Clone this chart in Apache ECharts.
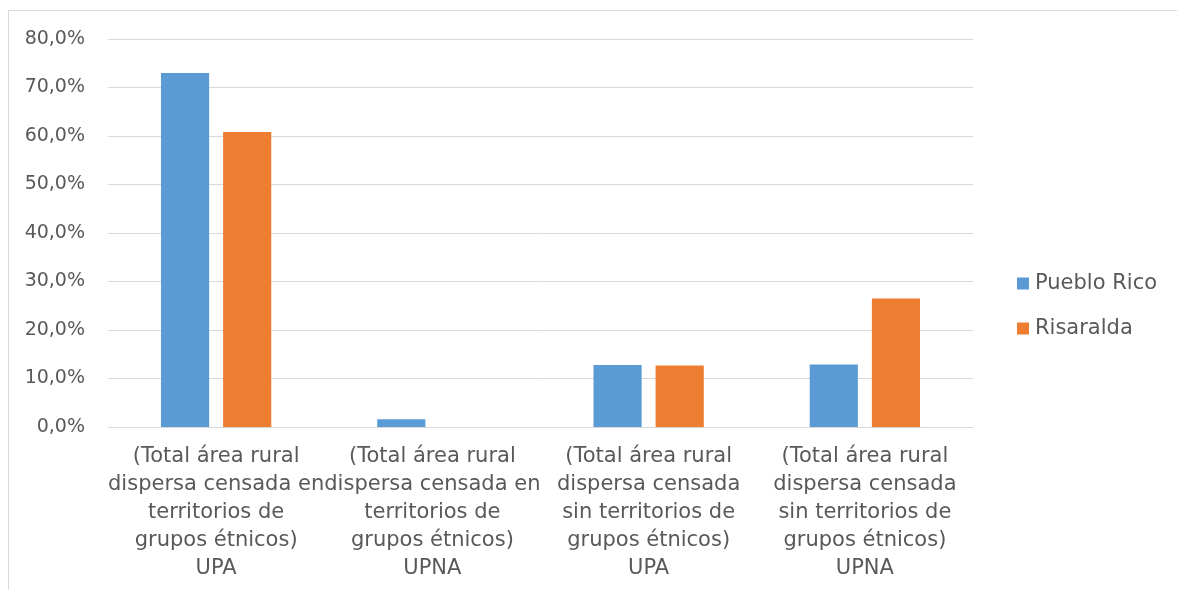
<!DOCTYPE html>
<html>
<head>
<meta charset="utf-8">
<script src="https://cdn.jsdelivr.net/npm/echarts@6/dist/echarts.min.js"></script>
<style>
html,body{margin:0;padding:0;background:#fff;overflow:hidden;}
#frame{position:absolute;left:8px;top:10px;width:1200px;height:600px;border:1px solid #d9d9d9;box-sizing:border-box;}
#chart{position:absolute;left:0;top:0;width:1177px;height:590px;}
</style>
</head>
<body>
<div id="frame"></div>
<div id="chart"></div>
<script>
const categories = [
  "(Total área rural\ndispersa censada en\nterritorios de\ngrupos étnicos)\nUPA",
  "(Total área rural\ndispersa censada en\nterritorios de\ngrupos étnicos)\nUPNA",
  "(Total área rural\ndispersa censada\nsin territorios de\ngrupos étnicos)\nUPA",
  "(Total área rural\ndispersa censada\nsin territorios de\ngrupos étnicos)\nUPNA"
];
const puebloRico = [73.0, 1.6, 12.8, 12.9];
const risaralda = [60.8, 0.0, 12.7, 26.5];
const yTicks = { min: 0, max: 80, interval: 10 };

const chart = echarts.init(document.getElementById('chart'), null, {renderer: 'canvas'});
const font = "'DejaVu Sans', sans-serif";
chart.setOption({
  backgroundColor: 'transparent',
  animation: false,
  grid: { left: 108, right: 204, top: 39, bottom: 163, containLabel: false },
  legend: {
    orient: 'vertical',
    left: 1017,
    top: 273,
    padding: 0,
    itemWidth: 12,
    itemHeight: 12,
    itemGap: 24,
    icon: 'rect',
    textStyle: { color: '#595959', fontSize: 21, fontFamily: font, padding: [0,0,0,1] },
    data: ['Pueblo Rico', 'Risaralda']
  },
  xAxis: {
    type: 'category',
    data: categories,
    axisLine: { lineStyle: { color: '#d9d9d9', width: 1 } },
    axisTick: { show: false },
    axisLabel: {
      interval: 0,
      color: '#595959',
      fontSize: 21,
      fontFamily: font,
      lineHeight: 28,
      margin: 16,
      align: 'center'
    }
  },
  yAxis: {
    type: 'value',
    min: yTicks.min,
    max: yTicks.max,
    interval: yTicks.interval,
    axisLine: { show: false },
    axisTick: { show: false },
    splitLine: { lineStyle: { color: '#d9d9d9', width: 1 } },
    axisLabel: {
      color: '#595959',
      fontSize: 19,
      fontFamily: font,
      margin: 23,
      formatter: v => v.toFixed(1).replace('.', ',') + '%'
    }
  },
  series: [
    { name: 'Pueblo Rico', type: 'bar', data: puebloRico, itemStyle: { color: '#5B9BD5' }, barGap: '29%', barCategoryGap: '49%' },
    { name: 'Risaralda', type: 'bar', data: risaralda, itemStyle: { color: '#ED7D31' }, barGap: '29%', barCategoryGap: '49%' }
  ]
});
</script>
</body>
</html>
